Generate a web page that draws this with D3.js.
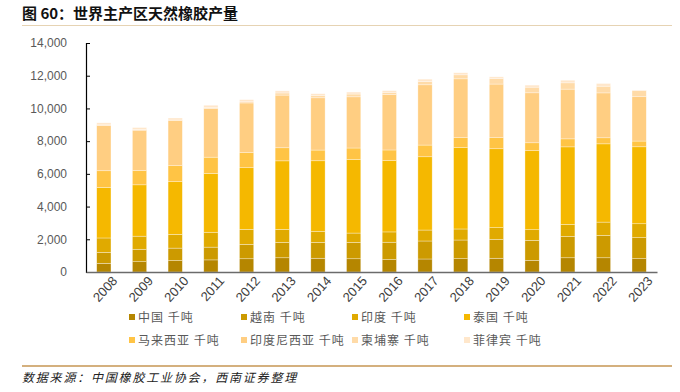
<!DOCTYPE html>
<html>
<head>
    <meta charset="utf-8">
    <script src="https://d3js.org/d3.v7.min.js"></script>
    <style>
        body { margin: 0; background: #fff; }
        svg text { font-family: "Liberation Sans", Arial, sans-serif; }
        .cjk { font-family: "Noto Sans CJK SC", sans-serif; }
    </style>
</head>
<body>
    <div id="chart"></div>
    <script>
        // years and production by country (thousand tonnes)
        const years = ['2008', '2009', '2010', '2011', '2012', '2013', '2014', '2015',
                       '2016', '2017', '2018', '2019', '2020', '2021', '2022', '2023'];
        const china       = [530, 630, 700, 740, 810, 870, 840, 810, 760, 795, 815, 840, 715, 870, 870, 815];
        const vietnam     = [670, 760, 760, 780, 880, 940, 975, 1000, 1060, 1100, 1140, 1160, 1220, 1305, 1370, 1285];
        const india       = [880, 800, 840, 910, 920, 795, 675, 570, 630, 670, 675, 710, 650, 735, 810, 850];
        const thailand    = [3090, 3140, 3220, 3600, 3765, 4190, 4310, 4500, 4355, 4480, 4970, 4825, 4830, 4740, 4785, 4705];
        const malaysia    = [1020, 870, 980, 990, 920, 800, 655, 700, 655, 715, 610, 675, 485, 490, 370, 350];
        const indonesia   = [2765, 2470, 2750, 2975, 3040, 3220, 3195, 3130, 3380, 3685, 3600, 3280, 3055, 3040, 2745, 2710];
        const cambodia    = [40, 40, 45, 60, 70, 130, 150, 170, 145, 190, 245, 330, 345, 385, 410, 380];
        const philippines = [125, 120, 120, 140, 130, 130, 100, 120, 100, 155, 125, 110, 125, 160, 165, 25];

        const seriesNames = ['中国 千吨', '越南 千吨', '印度 千吨', '泰国 千吨',
                             '马来西亚 千吨', '印度尼西亚 千吨', '柬埔寨 千吨', '菲律宾 千吨'];
        const seriesValues = [china, vietnam, india, thailand, malaysia, indonesia, cambodia, philippines];
        const colors = ['#B58600', '#CC9A00', '#E0AA00', '#F5B800',
                        '#FFC445', '#FFCE82', '#FFDBA8', '#FFE7CB'];
        const yTicks = [0, 2000, 4000, 6000, 8000, 10000, 12000, 14000];

        const W = 680, H = 392;
        const svg = d3.select('#chart').append('svg')
            .attr('width', W).attr('height', H);

        // title
        svg.append('text')
            .attr('class', 'cjk')
            .attr('x', 22).attr('y', 19)
            .style('font-size', '15px')
            .style('font-weight', 'bold')
            .attr('fill', '#111')
            .text('图 60：世界主产区天然橡胶产量');

        svg.append('line')
            .attr('x1', 22).attr('x2', 672).attr('y1', 25.5).attr('y2', 25.5)
            .attr('stroke', '#E6D3B3').attr('stroke-width', 1);

        const x = d3.scaleBand()
            .domain(years)
            .range([86, 657])
            .paddingInner(0.6)
            .paddingOuter(0.3);

        const y = d3.scaleLinear()
            .domain([0, 14000])
            .range([272, 43]);

        // stacked data
        const table = years.map((yr, i) => {
            const row = { year: yr };
            seriesNames.forEach((n, k) => { row[n] = seriesValues[k][i]; });
            return row;
        });
        const stacked = d3.stack().keys(seriesNames)(table);

        svg.append('g')
            .selectAll('g')
            .data(stacked)
            .join('g')
            .attr('fill', (d, i) => colors[i])
            .selectAll('rect')
            .data(d => d)
            .join('rect')
            .attr('x', d => x(d.data.year))
            .attr('width', x.bandwidth())
            .attr('y', d => y(d[1]))
            .attr('height', d => y(d[0]) - y(d[1]))
            .attr('stroke', 'rgba(255,255,255,0.55)')
            .attr('stroke-width', 0.6);

        // y axis
        const yAxis = svg.append('g')
            .attr('transform', 'translate(86,0)')
            .call(d3.axisLeft(y).tickValues(yTicks).tickFormat(d3.format(',')).tickSize(-4).tickPadding(19));
        yAxis.select('.domain').attr('stroke', '#000').attr('stroke-width', 1.2);
        yAxis.selectAll('.tick line').attr('stroke', '#000');
        yAxis.selectAll('text')
            .style('font-size', '12px')
            .attr('fill', '#595959');

        // x axis
        const xAxis = svg.append('g')
            .attr('transform', 'translate(0,272)')
            .call(d3.axisBottom(x).tickSize(0).tickPadding(9));
        xAxis.select('.domain').attr('stroke', '#6b6b6b').attr('stroke-width', 1.5);
        xAxis.selectAll('text')
            .style('font-size', '13px')
            .attr('fill', '#404040')
            .style('text-anchor', 'end')
            .attr('dx', '0.2em')
            .attr('dy', '0.6em')
            .attr('transform', 'rotate(-48)');

        // legend
        const legendX = [129, 241, 352, 464];
        const legendY = [318, 341];
        const legend = svg.append('g')
            .selectAll('g')
            .data(seriesNames)
            .join('g')
            .attr('transform', (d, i) => `translate(${legendX[i % 4]},${legendY[Math.floor(i / 4)]})`);
        legend.append('rect')
            .attr('x', 0).attr('y', -4)
            .attr('width', 6).attr('height', 6)
            .attr('fill', (d, i) => colors[i]);
        legend.append('text')
            .attr('class', 'cjk')
            .attr('x', 9).attr('y', 4)
            .style('font-size', '12px')
            .style('letter-spacing', '1px')
            .attr('fill', '#595959')
            .text(d => d);

        // footer
        svg.append('line')
            .attr('x1', 22).attr('x2', 672).attr('y1', 366).attr('y2', 366)
            .attr('stroke', '#D4B07E').attr('stroke-width', 2);
        svg.append('text')
            .attr('class', 'cjk')
            .attr('x', 22).attr('y', 382)
            .style('font-size', '12px')
            .style('font-style', 'italic')
            .style('letter-spacing', '1.8px')
            .attr('fill', '#222')
            .text('数据来源：中国橡胶工业协会，西南证券整理');
    </script>
</body>
</html>
